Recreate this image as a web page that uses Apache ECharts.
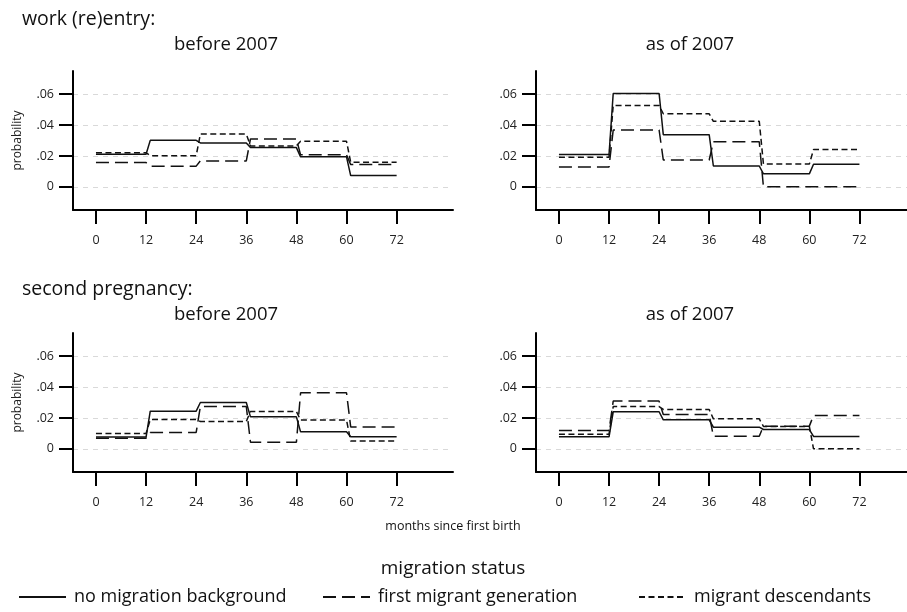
<!DOCTYPE html>
<html>
<head>
<meta charset="utf-8">
<script src="https://cdn.jsdelivr.net/npm/echarts@6/dist/echarts.min.js"></script>
<style>html,body{margin:0;padding:0;background:#fff}#c{width:907px;height:612px}</style>
</head>
<body>
<div id="c"></div>
<script>
// period boundaries (months since first birth)
const periodEnds = [12, 24, 36, 48, 60, 72];
const xTicks = [0, 12, 24, 36, 48, 60, 72];
const yTicks = [0, 0.02, 0.04, 0.06];
const seriesNames = ['no migration background', 'first migrant generation', 'migrant descendants'];

// work (re)entry, before 2007
const workBefore_noMig = [0.0211, 0.0301, 0.0284, 0.0254, 0.0194, 0.0073];
const workBefore_first = [0.0157, 0.0134, 0.0168, 0.0310, 0.0207, 0.0144];
const workBefore_desc  = [0.0220, 0.0202, 0.0342, 0.0265, 0.0295, 0.0159];
// work (re)entry, as of 2007
const workAfter_noMig = [0.0209, 0.0604, 0.0338, 0.0135, 0.0084, 0.0146];
const workAfter_first = [0.0129, 0.0368, 0.0174, 0.0292, 0.0000, 0.0000];
const workAfter_desc  = [0.0191, 0.0527, 0.0473, 0.0424, 0.0148, 0.0241];
// second pregnancy, before 2007
const pregBefore_noMig = [0.0076, 0.0244, 0.0300, 0.0207, 0.0110, 0.0078];
const pregBefore_first = [0.0069, 0.0106, 0.0274, 0.0043, 0.0363, 0.0142];
const pregBefore_desc  = [0.0099, 0.0190, 0.0177, 0.0242, 0.0186, 0.0050];
// second pregnancy, as of 2007
const pregAfter_noMig = [0.0078, 0.0240, 0.0188, 0.0140, 0.0125, 0.0080];
const pregAfter_first = [0.0119, 0.0309, 0.0222, 0.0082, 0.0147, 0.0216];
const pregAfter_desc  = [0.0095, 0.0274, 0.0255, 0.0194, 0.0145, 0.0000];

const panels = [
  [workBefore_noMig, workBefore_first, workBefore_desc],
  [workAfter_noMig, workAfter_first, workAfter_desc],
  [pregBefore_noMig, pregBefore_first, pregBefore_desc],
  [pregAfter_noMig, pregAfter_first, pregAfter_desc]
];

function stepPoints(vals) {
  const pts = [];
  vals.forEach((v, i) => {
    const start = i === 0 ? 0 : periodEnds[i - 1] + 1;
    pts.push([start, v]);
    pts.push([periodEnds[i], v]);
  });
  return pts;
}

const FONT = 'Open Sans';
const lineStyles = [
  { type: 'solid', width: 1.5, color: '#111' },
  { type: [13, 6], width: 1.5, color: '#111' },
  { type: [6, 3.5], width: 1.5, color: '#111' }
];

const grids = [
  { left: 73, top: 71, width: 380, height: 139 },
  { left: 536, top: 71, width: 371, height: 139 },
  { left: 73, top: 333, width: 380, height: 139 },
  { left: 536, top: 333, width: 371, height: 139 }
];

const xAxes = grids.map((g, i) => ({
  type: 'value', gridIndex: i, min: -5.5, max: (i % 2 === 0) ? 85.5 : 83.4,
  axisLine: { onZero: false, lineStyle: { color: '#000', width: 2 } },
  axisTick: { length: 14, lineStyle: { color: '#000', width: 2 }, customValues: xTicks },
  axisLabel: { customValues: xTicks, margin: 24, color: '#222', fontSize: 12.5, fontFamily: FONT },
  splitLine: { show: false }
}));

const yAxes = grids.map((g, i) => ({
  type: 'value', gridIndex: i, min: -0.015, max: 0.075,
  name: (i % 2 === 0) ? 'probability' : '', nameLocation: 'middle', nameGap: 49,
  nameTextStyle: { color: '#222', fontSize: 12, fontFamily: FONT },
  axisLine: { onZero: false, lineStyle: { color: '#000', width: 2 } },
  axisTick: { length: 14, lineStyle: { color: '#000', width: 2 }, customValues: yTicks },
  axisLabel: { customValues: yTicks, margin: 19, color: '#222', fontSize: 12.5, fontFamily: FONT,
    formatter: v => v === 0 ? '0' : ('.' + String(Math.round(v * 100)).padStart(2, '0')) },
  splitLine: { show: true, lineStyle: { color: '#d9d9d9', width: 1, type: [5, 5] } }
}));

const series = [];
panels.forEach((p, gi) => {
  p.forEach((vals, si) => {
    series.push({
      name: seriesNames[si], type: 'line', xAxisIndex: gi, yAxisIndex: gi,
      data: stepPoints(vals), symbol: 'none', showSymbol: false,
      lineStyle: lineStyles[si], itemStyle: { color: '#111' },
      silent: true, animation: false, z: 3
    });
  });
});

const titleStyle = (size) => ({ color: '#111', fontSize: size, fontWeight: 'normal', fontFamily: FONT });
const titles = [
  { text: 'work (re)entry:', left: 22, top: 9, padding: 0, textStyle: titleStyle(19.5) },
  { text: 'before 2007', left: 226, top: 35, padding: 0, textAlign: 'center', textStyle: titleStyle(18.5) },
  { text: 'as of 2007', left: 690, top: 35, padding: 0, textAlign: 'center', textStyle: titleStyle(18.5) },
  { text: 'second pregnancy:', left: 22, top: 279, padding: 0, textStyle: titleStyle(19.5) },
  { text: 'before 2007', left: 226, top: 305, padding: 0, textAlign: 'center', textStyle: titleStyle(18.5) },
  { text: 'as of 2007', left: 690, top: 305, padding: 0, textAlign: 'center', textStyle: titleStyle(18.5) },
  { text: 'months since first birth', left: 453, top: 520, padding: 0, textAlign: 'center', textStyle: titleStyle(12.5) },
  { text: 'migration status', left: 453, top: 559, padding: 0, textAlign: 'center', textStyle: titleStyle(19) }
];

const legendPos = [18, 322, 638];
const legends = seriesNames.map((n, i) => ({
  data: [n], left: legendPos[i], top: 588, itemWidth: 47, itemHeight: 16, itemGap: 0,
  padding: 0, selectedMode: false,
  itemStyle: { opacity: 0 },
  textStyle: { color: '#111', fontSize: 18, fontFamily: FONT, padding: [0, 0, 0, 3] }
}));

const chart = echarts.init(document.getElementById('c'), null, { renderer: 'canvas' });
chart.setOption({
  backgroundColor: '#fff',
  animation: false,
  title: titles,
  legend: legends,
  grid: grids,
  xAxis: xAxes,
  yAxis: yAxes,
  series: series
});
</script>
</body>
</html>
